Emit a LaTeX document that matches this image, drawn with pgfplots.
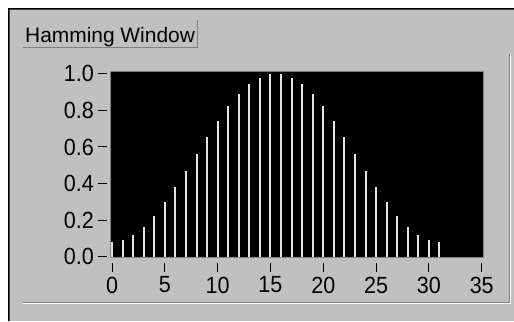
\documentclass[border=0pt]{standalone}
\usepackage{pgfplots}
\pgfplotsset{compat=1.18}
\usepackage{fontspec}
\setmainfont{Liberation Sans}
\newfontfamily\tickfont[FakeStretch=0.92]{Liberation Sans}
\definecolor{bggray}{HTML}{C0C0C0}
\definecolor{dgray}{HTML}{808080}
\definecolor{stemc}{HTML}{E4E4E4}
\begin{document}
\begin{tikzpicture}
\begin{scope}[x=1bp,y=1bp]
\path[use as bounding box] (0,0) rectangle (514,321);
\fill[white] (0,0) rectangle (514,321);
\fill[bggray] (8,0) rectangle (514,313);
\draw[black, line width=1bp] (8.5,0) -- (8.5,312.5) -- (514,312.5);
\draw[black!75, line width=1bp] (9.5,0) -- (9.5,311.5) -- (514,311.5);
% groove
\draw[dgray, line width=1bp] (23,18.5) -- (509.5,18.5) -- (509.5,267);
\draw[white, line width=1bp] (23,17.5) -- (510.5,17.5) -- (510.5,267);
% title box
\draw[dgray, line width=1bp] (23,273.5) -- (197.5,273.5) -- (197.5,301);
\node[anchor=base west, inner sep=0pt, font=\fontsize{21}{21}\selectfont] at (25,279) {Hamming Window};
\end{scope}
\begin{axis}[
  at={(110bp,63.5bp)}, anchor=south west,
  scale only axis, width=373bp, height=186bp,
  xmin=-0.19, xmax=35.12, ymin=-0.004, ymax=1.0125,
  axis background/.style={fill=black},
  axis line style={draw=dgray, line width=1bp},
  xtick={0,5,...,35}, ytick={0,0.2,...,1.0},
  xtick pos=bottom, ytick pos=left,
  minor tick num=0,
  tick align=outside,
  major tick length=9bp,
  xtick style={black, line width=1bp, yshift=-5bp},
  ytick style={black, line width=1bp, xshift=-3bp},
  yticklabel style={/pgf/number format/fixed, /pgf/number format/fixed zerofill, /pgf/number format/precision=1},
  /pgf/number format/assume math mode=true,
  ticklabel style={font=\tickfont\fontsize{23.5}{23.5}\selectfont, text=black},
  xticklabel style={anchor=north, yshift=-10bp, inner sep=0pt},
  yticklabel style={anchor=east, xshift=-7bp, inner sep=0pt},
  clip=false,
]
\addplot[ycomb, draw=stemc, line width=2bp, mark=none] coordinates {
(0,0.0800) (1,0.0894) (2,0.1173) (3,0.1624) (4,0.2231) (5,0.2968)
(6,0.3808) (7,0.4703) (8,0.5633) (9,0.6553) (10,0.7426) (11,0.8216)
(12,0.8890) (13,0.9422) (14,0.9789) (15,0.9976) (16,0.9976) (17,0.9789)
(18,0.9422) (19,0.8890) (20,0.8216) (21,0.7426) (22,0.6553) (23,0.5633)
(24,0.4703) (25,0.3808) (26,0.2968) (27,0.2231) (28,0.1624) (29,0.1173)
(30,0.0894) (31,0.0800)
};
\end{axis}
\end{tikzpicture}
\end{document}
